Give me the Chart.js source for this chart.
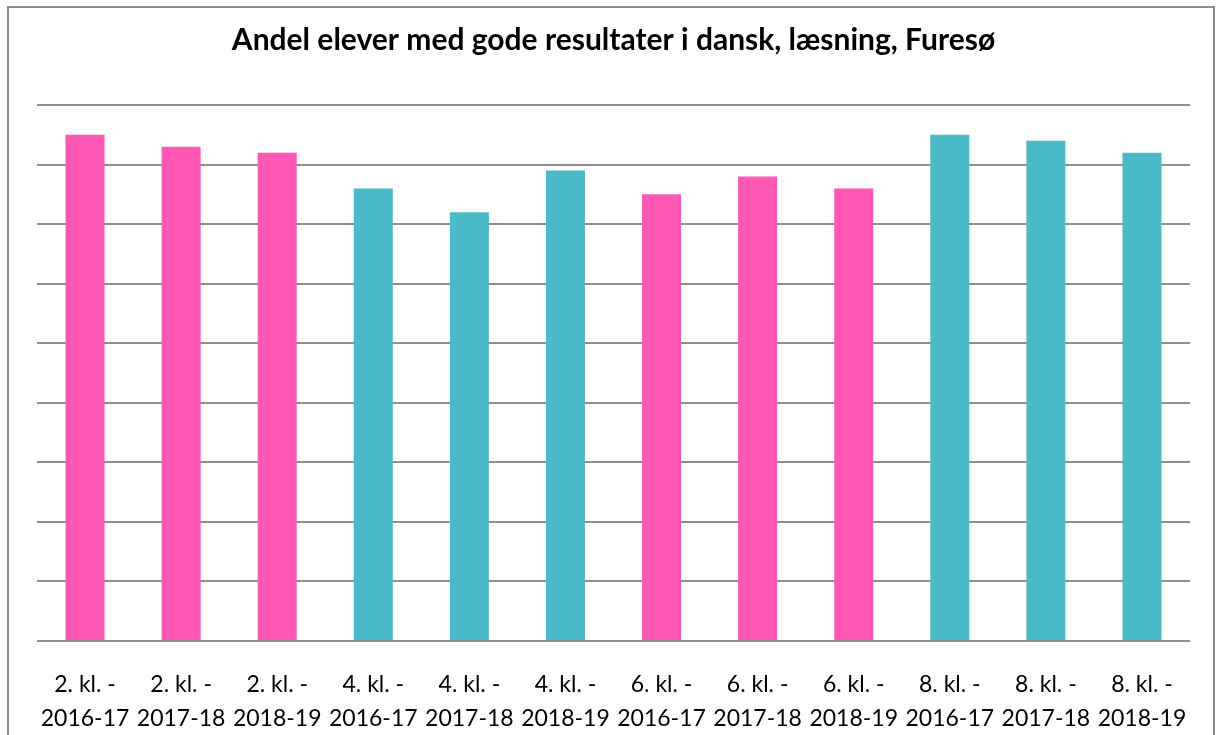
<!DOCTYPE html>
<html>
<head>
<meta charset="utf-8">
<title>Andel elever med gode resultater i dansk, læsning, Furesø</title>
<script src="https://cdn.jsdelivr.net/npm/chart.js@4/dist/chart.umd.min.js"></script>
<style>
  html, body { margin: 0; padding: 0; background: #fff; }
  #wrap { position: relative; width: 1218px; height: 735px; overflow: hidden; }
  #frame { position: absolute; left: 7px; top: 6px; width: 1208px; height: 760px;
           border: 2px solid #8c8c8c; box-sizing: border-box; pointer-events: none; }
  canvas { position: absolute; left: 0; top: 0; }
</style>
</head>
<body>
<div id="wrap">
  <canvas id="myChart" width="1218" height="735"></canvas>
  <div id="frame"></div>
</div>
<script>
// Data
const grades = ['2. kl. -', '2. kl. -', '2. kl. -', '4. kl. -', '4. kl. -', '4. kl. -',
                '6. kl. -', '6. kl. -', '6. kl. -', '8. kl. -', '8. kl. -', '8. kl. -'];
const years = ['2016-17', '2017-18', '2018-19', '2016-17', '2017-18', '2018-19',
               '2016-17', '2017-18', '2018-19', '2016-17', '2017-18', '2018-19'];
const shares = [85, 83, 82, 76, 72, 79, 75, 78, 76, 85, 84, 82];
const yTicks = [0, 10, 20, 30, 40, 50, 60, 70, 80, 90];

const PINK = '#ff57b4';
const TEAL = '#4bbac8';

// 2. and 6. klasse are pink, 4. and 8. klasse teal
function colorSelection(grade) {
    return (grade.startsWith('2') || grade.startsWith('6')) ? PINK : TEAL;
}

const labels = grades.map((g, i) => [g, years[i]]);

const ctx = document.getElementById('myChart').getContext('2d');
const myChart = new Chart(ctx, {
    type: 'bar',
    data: {
        labels: labels,
        datasets: [{
            label: 'Andel',
            data: shares,
            backgroundColor: grades.map(colorSelection),
            borderWidth: 0,
            categoryPercentage: 1,
            barPercentage: 0.406
        }]
    },
    options: {
        responsive: false,
        animation: false,
        layout: {
            padding: { left: 37, right: 28, top: 0, bottom: 0 }
        },
        plugins: {
            legend: { display: false },
            tooltip: { enabled: false },
            title: {
                display: true,
                text: 'Andel elever med gode resultater i dansk, læsning, Furesø',
                color: '#000',
                font: { family: 'Lato', size: 30, weight: 'bold' },
                padding: { top: 22, bottom: 47 }
            }
        },
        scales: {
            x: {
                grid: { display: false },
                border: { display: false },
                ticks: {
                    color: '#000',
                    font: { family: 'Lato', size: 23, lineHeight: '34px' },
                    padding: 19,
                    maxRotation: 0,
                    autoSkip: false
                },
                afterFit: scale => { scale.height = 94; }
            },
            y: {
                min: yTicks[0],
                max: yTicks[yTicks.length - 1],
                afterBuildTicks: scale => { scale.ticks = yTicks.map(v => ({ value: v })); },
                ticks: { display: false },
                border: { display: false },
                grid: { color: '#8e8e8e', lineWidth: 2, drawTicks: false },
                afterFit: scale => { scale.width = 0; }
            }
        }
    }
});
</script>
</body>
</html>
